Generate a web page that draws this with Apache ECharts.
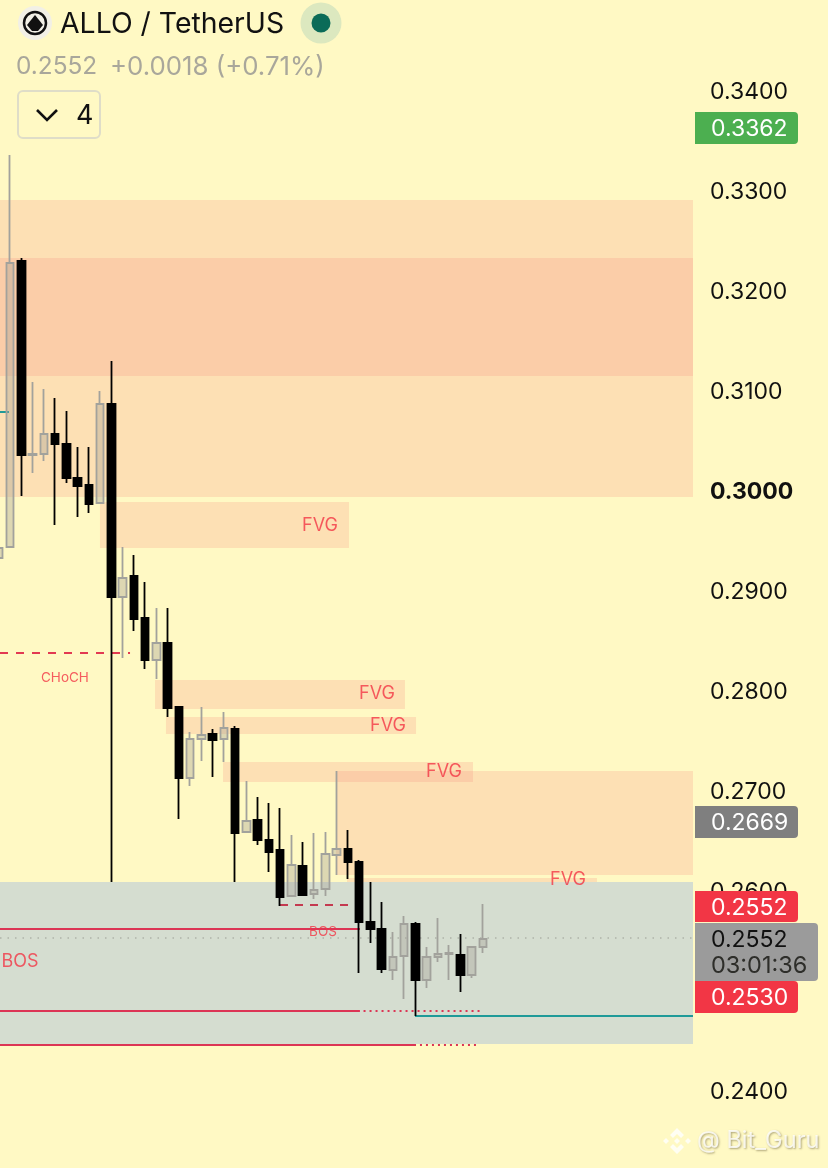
<!DOCTYPE html>
<html><head><meta charset="utf-8">
<style>html,body{margin:0;padding:0;background:#fff9c4}#c{width:828px;height:1168px}</style>
<script src="https://cdn.jsdelivr.net/npm/echarts@6/dist/echarts.min.js"></script>
</head><body><div id="c"></div>
<script>
const opens=[.2933,.2944,.3230,.3036,.3037,.3057,.3047,.3013,.3006,.2988,.3087,.2894,.2915,.2873,.2831,.2848,.2784,.2713,.2752,.2757,.2752,.2762,.2659,.2671,.2651,.2641,.2595,.2625,.2597,.2602,.2636,.2642,.2629,.2569,.2562,.2521,.2535,.2567,.2511,.2534,.2537,.2536,.2516,.2544];
const closes=[.2943,.3228,.3036,.3037,.3057,.3047,.3013,.3005,.2987,.3087,.2894,.2913,.2872,.2831,.2848,.2783,.2713,.2752,.2756,.2751,.2763,.2658,.2670,.2651,.2639,.2594,.2626,.2596,.2601,.2637,.2642,.2629,.2569,.2562,.2522,.2534,.2567,.2511,.2534,.2537,.2538,.2516,.2544,.2552];
const lows=[.2933,.2944,.2995,.3018,.3030,.2966,.3008,.2974,.2978,.2988,.2609,.2833,.2860,.2822,.2812,.2774,.2672,.2705,.2730,.2714,.2729,.2609,.2659,.2646,.2619,.2585,.2595,.2595,.2592,.2595,.2616,.2612,.2518,.2548,.2518,.2511,.2492,.2475,.2503,.2529,.2511,.2499,.2513,.2538];
const highs=[.2943,.3336,.3233,.3109,.3102,.3093,.3080,.3044,.3044,.3100,.3130,.2944,.2936,.2909,.2883,.2883,.2784,.2759,.2784,.2762,.2779,.2765,.2710,.2694,.2688,.2683,.2656,.2649,.2658,.2659,.2720,.2661,.2631,.2609,.2589,.2559,.2575,.2569,.2544,.2573,.2546,.2557,.2544,.2587];
const xMin=0.112,xMax=61.66;
// zones: start bar, end bar, upper price, lower price
const orangeZones=[[xMin,xMax,.3291,.3115],[xMin,xMax,.3233,.2994],[8.99,31.11,.2989,.2943],[13.88,36.08,.2811,.2782],[14.85,37.06,.2774,.2757],[19.92,42.12,.2729,.2709],[29.95,xMax,.2720,.2616],[30.93,53.13,.2613,.2609]];
const grayZones=[[xMin,xMax,.2609,.2447]];
// levels: start bar, end bar, price, colour, dash
const levels=[
 [xMin,0.91,.3079,'#1f9a98','solid',2],
 [xMin,11.66,.2838,'#e23a52',[8,8],2],
 [24.98,31.37,.2586,'#c43a50',[8,7],2],
 [xMin,32.08,.2562,'#dc3555','solid',2],
 [xMin,32.08,.2480,'#dc3555','solid',2],
 [32.4,42.9,.2480,'#dc3555',[2,4],2],
 [xMin,37.06,.2446,'#dc3555','solid',2],
 [37.41,42.7,.2446,'#dc3555',[2,4],2],
 [36.97,xMax,.2475,'#1f9a98','solid',2],
 [xMin,xMax,.2553,'#aeb3a8',[1.5,6],1.5]
];
// annotations: bar, price, text, size
const notes=[[28.53,.2965,'FVG',18],[33.59,.2797,'FVG',18],[34.57,.2765,'FVG',18],[39.54,.2719,'FVG',18],[50.56,.2611,'FVG',18],[5.88,.2813,'CHoCH',13.5],[28.8,.2559,'BOS',13.5],[1.89,.2529,'BOS',18]];
const yTicks={min:.24,max:.34,step:.01};
const boldTick='0.3000';
const title='ALLO / TetherUS',lastPrice='0.2552',change='+0.0018 (+0.71%)';
const F='Inter, "Noto Sans", sans-serif';
const chart=echarts.init(document.getElementById('c'),null,{renderer:'canvas'});
const zoneSeries=(rows,fill,z)=>({type:'custom',silent:true,z,clip:false,data:rows,encode:{x:[0,1],y:[2,3]},
 renderItem:(p,api)=>{const a=api.coord([api.value(0),api.value(2)]),b=api.coord([api.value(1),api.value(3)]);
  return {type:'rect',shape:{x:a[0],y:a[1],width:b[0]-a[0],height:b[1]-a[1]},style:{fill}};}});
const T=(x,y,text,size,fill,extra)=>({type:'text',x,y,z:100,style:Object.assign({text,font:`${size}px ${F}`,fill,textVerticalAlign:'middle'},extra||{})});
const tag=(y0,y1,w,fill)=>({type:'rect',z:99,shape:{x:695,y:y0,width:w,height:y1-y0,r:[0,4,4,0]},style:{fill}});
const wm='rgba(255,255,255,.8)';
const gfx=[
 {type:'circle',z:100,shape:{cx:35,cy:23,r:17},style:{fill:'#f2f0e6'}},
 {type:'circle',z:100,shape:{cx:35,cy:23,r:11},style:{fill:'none',stroke:'#111',lineWidth:2.5}},
 {type:'polygon',z:100,shape:{points:[[35,15],[43,25],[38,31],[32,31],[27,25]]},style:{fill:'#111'}},
 T(60,24,title,28.4,'#111'),
 {type:'circle',z:100,shape:{cx:321,cy:23,r:20.5},style:{fill:'#dce8bf'}},
 {type:'circle',z:100,shape:{cx:321,cy:23,r:9.5},style:{fill:'#0b6b58'}},
 T(16,67,lastPrice,24.4,'#a9a79b'),
 T(110,67,change,25.8,'#a9a79b'),
 {type:'rect',z:100,shape:{x:18,y:91,width:82,height:47,r:5},style:{fill:'none',stroke:'#dfddc8',lineWidth:2}},
 {type:'polyline',z:100,shape:{points:[[37,110],[47,120],[57,110]]},style:{fill:'none',stroke:'#111',lineWidth:2.6}},
 T(76,116,'4',27,'#111'),
 tag(112,144,103,'#4caf50'),T(711,129,'0.3362',23,'#fff'),
 tag(806,838,103,'#7f7f7f'),T(711,823,'0.2669',23,'#fff'),
 tag(891,922,103,'#f23645'),T(711,908,'0.2552',23,'#fff'),
 tag(923,981,123,'#9b9b9b'),T(711,940,'0.2552',23,'#111'),T(711,966,'03:01:36',23.5,'#2e2e2a'),
 tag(981,1013,103,'#f23645'),T(711,998,'0.2530',23,'#fff'),
 {type:'polygon',z:100,shape:{points:[[677,1128],[684,1135],[681,1138],[677,1134],[673,1138],[670,1135]]},style:{fill:wm}},
 {type:'polygon',z:100,shape:{points:[[677,1154],[684,1147],[681,1144],[677,1148],[673,1144],[670,1147]]},style:{fill:wm}},
 {type:'polygon',z:100,shape:{points:[[677,1138],[680,1141],[677,1144],[674,1141]]},style:{fill:wm}},
 {type:'polygon',z:100,shape:{points:[[666,1138],[669,1141],[666,1144],[663,1141]]},style:{fill:wm}},
 {type:'polygon',z:100,shape:{points:[[688,1138],[691,1141],[688,1144],[685,1141]]},style:{fill:wm}},
 T(697,1141,'@ Bit_Guru',23.6,wm,{textShadowColor:'rgba(110,100,60,.7)',textShadowBlur:2,textShadowOffsetX:1,textShadowOffsetY:1})
];
chart.setOption({
 animation:false,backgroundColor:'#fff9c4',
 grid:{left:0,width:693,top:91,height:1000,containLabel:false},
 xAxis:{type:'value',min:xMin,max:xMax,show:false},
 yAxis:{type:'value',position:'right',min:yTicks.min,max:yTicks.max,interval:yTicks.step,scale:true,
  axisLine:{show:false},axisTick:{show:false},splitLine:{show:false},
  axisLabel:{margin:17,align:'left',color:'#111',fontFamily:F,fontSize:23,padding:[2,0,0,0],
   formatter:v=>{const s=v.toFixed(4);return s===boldTick?`{b|${s}}`:s;},
   rich:{b:{fontWeight:'bold',fontFamily:F,fontSize:23,color:'#111'}}}},
 graphic:gfx,
 series:[
  zoneSeries(orangeZones,'rgba(248,147,128,.24)',1),
  zoneSeries(grayZones,'rgba(172,193,219,.5)',2),
  ...levels.map(l=>({type:'line',z:3,silent:true,symbol:'none',clip:false,data:[[l[0],l[2]],[l[1],l[2]]],lineStyle:{color:l[3],type:l[4],width:l[5]}})),
  {type:'candlestick',z:4,silent:true,barWidth:8,encode:{x:0,y:[1,2,3,4]},clip:false,
   data:opens.map((o,i)=>[i,o,closes[i],lows[i],highs[i]]),
   itemStyle:{color:'rgba(165,160,150,.38)',borderColor:'#a2a29c',color0:'#000',borderColor0:'#000',borderWidth:1.8}},
  {type:'scatter',z:5,silent:true,symbolSize:0,data:notes.map(n=>({value:[n[0],n[1]],name:n[2],
    label:{show:true,position:'inside',formatter:n[2],fontSize:n[3],color:'#f23645',fontFamily:F}}))}
 ]
});
</script></body></html>
